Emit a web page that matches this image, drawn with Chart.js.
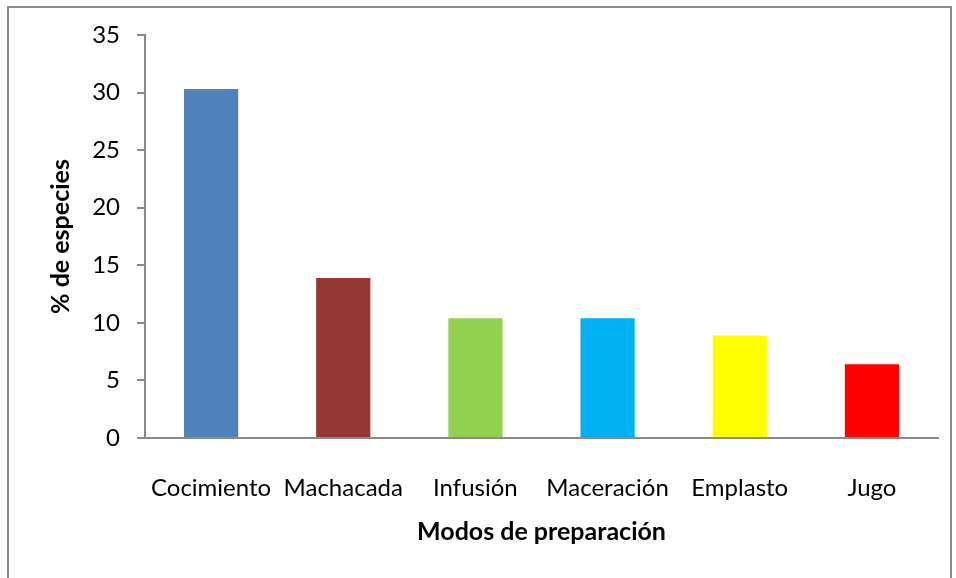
<!DOCTYPE html>
<html>
<head>
<meta charset="utf-8">
<script src="https://cdn.jsdelivr.net/npm/chart.js@4"></script>
<style>
  html, body { margin: 0; padding: 0; background: #fff; overflow: hidden; }
  #frame { position: absolute; left: 7px; top: 6px; width: 945px; height: 600px; border: 2px solid #898989; box-sizing: border-box; }
  #wrap { position: absolute; left: 0; top: 0; width: 956px; height: 578px; }
</style>
</head>
<body>
<div id="frame"></div>
<div id="wrap"><canvas id="graph" width="956" height="578"></canvas></div>
<script>
const modos = ['Cocimiento', 'Machacada', 'Infusión', 'Maceración', 'Emplasto', 'Jugo'];
const porcentajes = [30.3, 13.9, 10.4, 10.4, 8.9, 6.4];
const colores = ['#4F81BD', '#953735', '#92D050', '#00B0F0', '#FFFF00', '#FF0000'];
const yTicks = [0, 5, 10, 15, 20, 25, 30, 35];

const fuente = 'Lato, Carlito, Calibri, sans-serif';
const ctx = document.getElementById('graph').getContext('2d');

new Chart(ctx, {
  type: 'bar',
  data: {
    labels: modos,
    datasets: [{
      data: porcentajes,
      backgroundColor: colores,
      borderWidth: 0,
      barPercentage: 0.41,
      categoryPercentage: 1
    }]
  },
  options: {
    responsive: false,
    animation: false,
    layout: { padding: { left: 0, top: 35, right: 18, bottom: 0 } },
    plugins: {
      legend: { display: false },
      tooltip: { enabled: false }
    },
    scales: {
      x: {
        grid: { display: false },
        border: { display: true, color: '#898989', width: 2 },
        ticks: { color: '#000', padding: 28, maxRotation: 0, font: { family: fuente, size: 24 } },
        title: {
          display: true,
          text: 'Modos de preparación',
          color: '#000',
          padding: { top: 0, bottom: 31 },
          font: { family: fuente, size: 25, weight: 'bold' }
        },
        afterFit: function(scale) { scale.height = 140; }
      },
      y: {
        min: 0,
        max: 35,
        afterBuildTicks: function(scale) { scale.ticks = yTicks.map(v => ({ value: v })); },
        grid: { display: true, drawOnChartArea: false, drawTicks: true, tickLength: 8, color: '#898989', lineWidth: 2 },
        border: { display: true, color: '#898989', width: 2 },
        ticks: { color: '#000', padding: 17, font: { family: fuente, size: 24 } },
        title: {
          display: true,
          text: '% de especies',
          color: '#000',
          padding: { top: 46, bottom: 0 },
          font: { family: fuente, size: 25, weight: 'bold' }
        },
        afterFit: function(scale) { scale.width = 145; }
      }
    }
  }
});
</script>
</body>
</html>
